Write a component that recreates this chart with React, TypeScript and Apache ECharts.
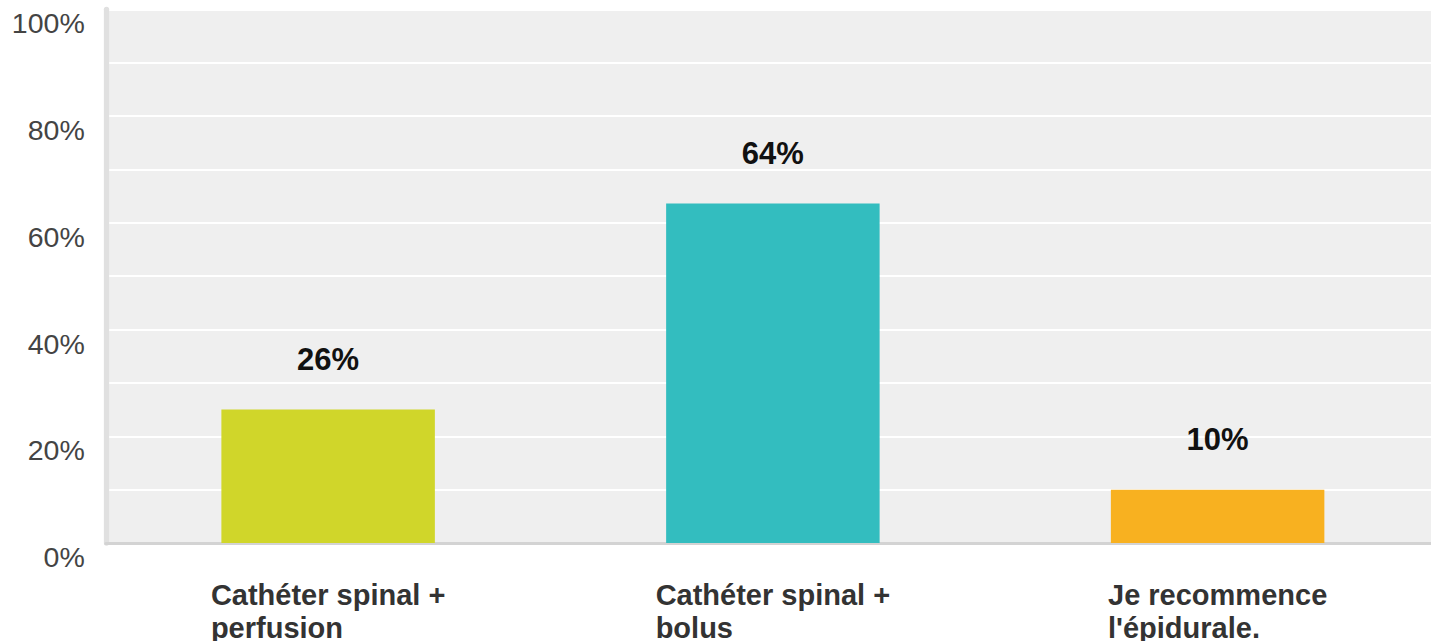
import React, { useEffect, useRef } from "react";
import * as echarts from "echarts";

const categories = ["Cathéter spinal +\nperfusion", "Cathéter spinal +\nbolus", "Je recommence\nl'épidurale."];
const values = [25, 63.6, 10];
const valueLabels = ["26%", "64%", "10%"];
const barColors = ["#d0d62a", "#33bdbf", "#f8b120"];
const yTicks = [0, 20, 40, 60, 80, 100];

const FONT = "'Liberation Sans', Arial, Helvetica, sans-serif";

export default function App() {
  const ref = useRef<HTMLDivElement>(null);
  useEffect(() => {
    if (!ref.current) return;
    const chart = echarts.init(ref.current, null, { renderer: "svg" });
    chart.setOption({
      animation: false,
      grid: {
        left: 105.75,
        right: 0,
        top: 9.3,
        bottom: 98,
        show: true,
        backgroundColor: "#efefef",
        borderWidth: 0,
        outerBoundsMode: "none",
        containLabel: false,
      },
      xAxis: {
        type: "category",
        data: categories,
        axisTick: { show: false },
        axisLine: { show: true, lineStyle: { color: "#d3d3d3", width: 3 } },
        axisLabel: {
          margin: 35,
          interval: 0,
          fontFamily: FONT,
          fontSize: 29,
          fontWeight: "bold",
          color: "#333333",
          lineHeight: 33,
          align: "center",
          formatter: (v: string) =>
            v
              .split("\n")
              .map((l) => "{a|" + l + "}")
              .join("\n"),
          rich: {
            a: {
              align: "left",
              fontFamily: FONT,
              fontSize: 29,
              fontWeight: "bold",
              color: "#333333",
              lineHeight: 33,
            },
          },
        },
      },
      yAxis: {
        type: "value",
        min: 0,
        max: 100,
        interval: 10,
        axisLine: { show: true, lineStyle: { color: "#e0e0e0", width: 5.3 } },
        axisTick: { show: false },
        splitLine: { show: true, lineStyle: { color: "#ffffff", width: 2 } },
        axisLabel: {
          margin: 21,
          fontFamily: FONT,
          fontSize: 28.5,
          color: "#444444",
          verticalAlign: "top",
          lineHeight: 28,
          formatter: (v: number) => (yTicks.includes(v) ? v + "%" : ""),
        },
      },
      series: [
        {
          type: "bar",
          barWidth: "48%",
          data: values.map((v, i) => ({
            value: v,
            itemStyle: { color: barColors[i] },
            label: {
              show: true,
              position: "top",
              distance: 35,
              formatter: () => valueLabels[i],
              fontFamily: FONT,
              fontSize: 31,
              fontWeight: "bold",
              color: "#111111",
            },
          })),
        },
      ],
    });
    return () => chart.dispose();
  }, []);
  return (
    <div
      style={{ position: "fixed", left: 0, top: 0, width: 1431, height: 641, overflow: "hidden", background: "#ffffff" }}
    >
      <div ref={ref} style={{ width: 1440, height: 641 }} />
    </div>
  );
}
